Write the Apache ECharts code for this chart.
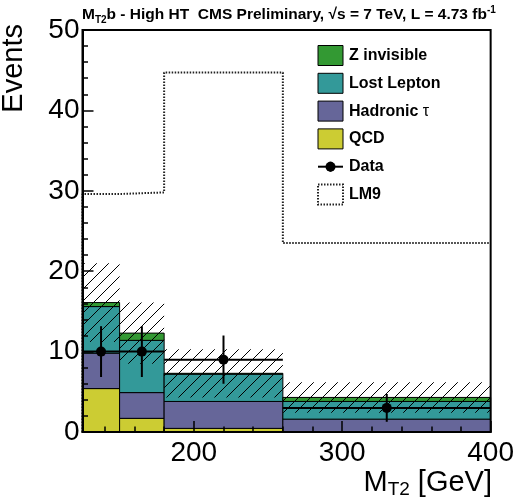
<!DOCTYPE html>
<html><head><meta charset="utf-8">
<script src="https://cdn.jsdelivr.net/npm/echarts@6/dist/echarts.min.js"></script>
<style>html,body{margin:0;padding:0;background:#fff}#c{width:517px;height:503px}</style>
</head><body><div id="c"></div>
<script>
// ---- data ----
const binEdges = [125, 150, 180, 260, 400];
const qcd = [5.4, 1.7, 0.45, 0.05];
const hadTau = [4.4, 3.2, 3.35, 1.55];
const lostLepton = [5.8, 6.5, 3.4, 2.2];
const zInvisible = [0.5, 0.9, 0.1, 0.5];
const bkgError = [4.9, 3.8, 3.0, 1.9];
const dataValues = [10, 10, 9, 3];
const dataErrors = [3.16, 3.16, 3.0, 1.73];
const lm9 = [29.6, 29.8, 44.7, 23.5];
const xMajorTicks = [200, 300, 400];
const xMinorTicks = [140, 160, 180, 220, 240, 260, 280, 320, 340, 360, 380];
const yMajorTicks = [0, 10, 20, 30, 40, 50];
const yMinorTicks = [2, 4, 6, 8, 12, 14, 16, 18, 22, 24, 26, 28, 32, 34, 36, 38, 42, 44, 46, 48];

const FONT = '"Liberation Sans", Arial, Helvetica, sans-serif';
const colors = { qcd: '#cccc33', had: '#666699', ll: '#339999', z: '#339933' };

// hatch pattern
const pc = document.createElement('canvas');
pc.width = 12; pc.height = 12;
const g = pc.getContext('2d');
g.strokeStyle = '#000'; g.lineWidth = 1;
g.beginPath();
g.moveTo(-1, 13); g.lineTo(13, -1);
g.stroke();
const hatch = { image: pc, repeat: 'repeat' };

// build stacked bins
const comps = [qcd, hadTau, lostLepton, zInvisible];
const cum = binEdges.slice(0, -1).map(() => 0);
const stackData = comps.map(arr => arr.map((v, i) => {
  const y0 = cum[i]; cum[i] += v;
  return [binEdges[i], binEdges[i + 1], y0, cum[i]];
}));
const totals = cum.slice();
const bandData = totals.map((t, i) => [binEdges[i], binEdges[i + 1], Math.max(0, t - bkgError[i]), t + bkgError[i]]);
const dataPts = dataValues.map((v, i) => [binEdges[i], binEdges[i + 1], v, dataErrors[i]]);
const lm9Line = [[binEdges[0], 0]];
lm9.forEach((v, i) => lm9Line.push([binEdges[i], v]));
lm9Line.push([binEdges[binEdges.length - 1], lm9[lm9.length - 1]]);

function rectRender(fill, stroke) {
  return function (params, api) {
    const p0 = api.coord([api.value(0), api.value(3)]);
    const p1 = api.coord([api.value(1), api.value(2)]);
    return {
      type: 'rect',
      shape: { x: p0[0], y: p0[1], width: p1[0] - p0[0], height: p1[1] - p0[1] },
      style: stroke ? { fill: fill, stroke: '#000', lineWidth: 1 } : { fill: fill }
    };
  };
}

function stackSeries(name, data, color) {
  return { name: name, type: 'custom', data: data, renderItem: rectRender(color, true), clip: true, silent: true };
}

const chart = echarts.init(document.getElementById('c'), null, { renderer: 'canvas' });

const legendRows = [55.5, 83.3, 111.1, 138.9, 166.7, 194.5];
const lx = 318, lw = 25, lh = 20, tx = 349;
const legendText = (y, txt) => ({
  type: 'text', x: tx, y: y,
  style: { text: txt, fontFamily: FONT, fontSize: 16, fontWeight: 'bold', fill: '#000', verticalAlign: 'middle', align: 'left' }
});
const legendBox = (y, c) => ({
  type: 'rect', shape: { x: lx, y: y - lh / 2, width: lw, height: lh },
  style: { fill: c, stroke: '#000', lineWidth: 1 }
});

chart.setOption({
  animation: false,
  backgroundColor: '#fff',
  title: {
    left: 82, top: 5, padding: 0,
    text: '{m|M}{sub|T2}{m|b - High HT  CMS Preliminary, √}{m|s}{m| = 7 TeV, L = 4.73 fb}{sup|-1}',
    textStyle: {
      rich: {
        m: { fontFamily: FONT, fontSize: 15.5, fontWeight: 'bold', color: '#000', lineHeight: 20 },
        sub: { fontFamily: FONT, fontSize: 10, fontWeight: 'bold', color: '#000', lineHeight: 11, verticalAlign: 'bottom' },
        sup: { fontFamily: FONT, fontSize: 10, fontWeight: 'bold', color: '#000', lineHeight: 11, verticalAlign: 'top' }
      }
    }
  },
  grid: { left: 82.5, right: 25, top: 30, bottom: 71, show: true, borderColor: '#000', borderWidth: 2, backgroundColor: 'transparent', z: 10, containLabel: false },
  xAxis: [
    {
      type: 'value', min: 125, max: 400, position: 'bottom', z: 10,
      axisLine: { show: true, lineStyle: { color: '#000', width: 2 } },
      axisTick: { show: true, inside: true, length: 11, customValues: xMajorTicks, lineStyle: { color: '#000', width: 1.5 } },
      axisLabel: { show: true, customValues: xMajorTicks, fontSize: 28, color: '#000', fontFamily: FONT, margin: 7 },
      splitLine: { show: false }
    },
    {
      type: 'value', min: 125, max: 400, position: 'bottom', z: 10,
      axisLine: { show: false },
      axisTick: { show: true, inside: true, length: 5.5, customValues: xMinorTicks, lineStyle: { color: '#000', width: 1.5 } },
      axisLabel: { show: false },
      splitLine: { show: false }
    }
  ],
  yAxis: [
    {
      type: 'value', min: 0, max: 50, position: 'left', z: 10,
      axisLine: { show: true, lineStyle: { color: '#000', width: 2 } },
      axisTick: { show: true, inside: true, length: 11, customValues: yMajorTicks, lineStyle: { color: '#000', width: 1.5 } },
      axisLabel: { show: true, customValues: yMajorTicks, fontSize: 28, color: '#000', fontFamily: FONT, margin: 3 },
      splitLine: { show: false }
    },
    {
      type: 'value', min: 0, max: 50, position: 'left', z: 10,
      axisLine: { show: false },
      axisTick: { show: true, inside: true, length: 5.5, customValues: yMinorTicks, lineStyle: { color: '#000', width: 1.5 } },
      axisLabel: { show: false },
      splitLine: { show: false }
    }
  ],
  series: [
    stackSeries('QCD', stackData[0], colors.qcd),
    stackSeries('Hadronic τ', stackData[1], colors.had),
    stackSeries('Lost Lepton', stackData[2], colors.ll),
    stackSeries('Z invisible', stackData[3], colors.z),
    { name: 'Uncertainty', type: 'custom', data: bandData, renderItem: rectRender(hatch, false), clip: true, silent: true },
    {
      name: 'LM9', type: 'line', data: lm9Line, step: 'end', symbol: 'none', clip: false,
      lineStyle: { color: '#222', width: 2, type: [1.5, 1.5] }, silent: true
    },
    {
      name: 'Data', type: 'custom', data: dataPts, clip: true, silent: true,
      renderItem: function (params, api) {
        const x0 = api.value(0), x1 = api.value(1), v = api.value(2), e = api.value(3);
        const xc = (x0 + x1) / 2;
        const pl = api.coord([x0, v]), pr = api.coord([x1, v]);
        const pc2 = api.coord([xc, v]);
        const pt = api.coord([xc, v + e]), pb = api.coord([xc, v - e]);
        return {
          type: 'group', children: [
            { type: 'line', shape: { x1: pl[0], y1: pl[1], x2: pr[0], y2: pr[1] }, style: { stroke: '#000', lineWidth: 2 } },
            { type: 'line', shape: { x1: pt[0], y1: pt[1], x2: pb[0], y2: pb[1] }, style: { stroke: '#000', lineWidth: 2 } },
            { type: 'circle', shape: { cx: pc2[0], cy: pc2[1], r: 5 }, style: { fill: '#000' } }
          ]
        };
      }
    }
  ],
  graphic: [
    legendBox(legendRows[0], colors.z), legendText(legendRows[0], 'Z invisible'),
    legendBox(legendRows[1], colors.ll), legendText(legendRows[1], 'Lost Lepton'),
    legendBox(legendRows[2], colors.had),
    {
      type: 'text', x: tx, y: legendRows[2],
      style: {
        text: '{b|Hadronic }{t|τ}', verticalAlign: 'middle', align: 'left',
        rich: {
          b: { fontFamily: FONT, fontSize: 16, fontWeight: 'bold', fill: '#000' },
          t: { fontFamily: FONT, fontSize: 16, fill: '#000' }
        }
      }
    },
    legendBox(legendRows[3], colors.qcd), legendText(legendRows[3], 'QCD'),
    { type: 'line', shape: { x1: lx, y1: legendRows[4], x2: lx + lw, y2: legendRows[4] }, style: { stroke: '#000', lineWidth: 2 } },
    { type: 'line', shape: { x1: lx + lw / 2, y1: legendRows[4] - 5, x2: lx + lw / 2, y2: legendRows[4] + 5 }, style: { stroke: '#000', lineWidth: 2 } },
    { type: 'circle', shape: { cx: lx + lw / 2, cy: legendRows[4], r: 5 }, style: { fill: '#000' } },
    legendText(legendRows[4], 'Data'),
    { type: 'rect', shape: { x: lx, y: legendRows[5] - lh / 2, width: lw, height: lh }, style: { fill: '#fff', stroke: '#222', lineWidth: 2, lineDash: [1.5, 1.5] } },
    legendText(legendRows[5], 'LM9'),
    {
      type: 'text', x: 14, y: 24, rotation: Math.PI / 2,
      style: { text: 'Events', fontFamily: FONT, fontSize: 29, fill: '#000', align: 'right', verticalAlign: 'middle' }
    },
    {
      type: 'text', x: 492, y: 483,
      style: {
        text: '{a|M}{s|T2}{a| [GeV]}', align: 'right', verticalAlign: 'middle',
        rich: {
          a: { fontFamily: FONT, fontSize: 29, fill: '#000', lineHeight: 32 },
          s: { fontFamily: FONT, fontSize: 19, fill: '#000', lineHeight: 15, verticalAlign: 'bottom' }
        }
      }
    }
  ]
});
</script>
</body></html>
